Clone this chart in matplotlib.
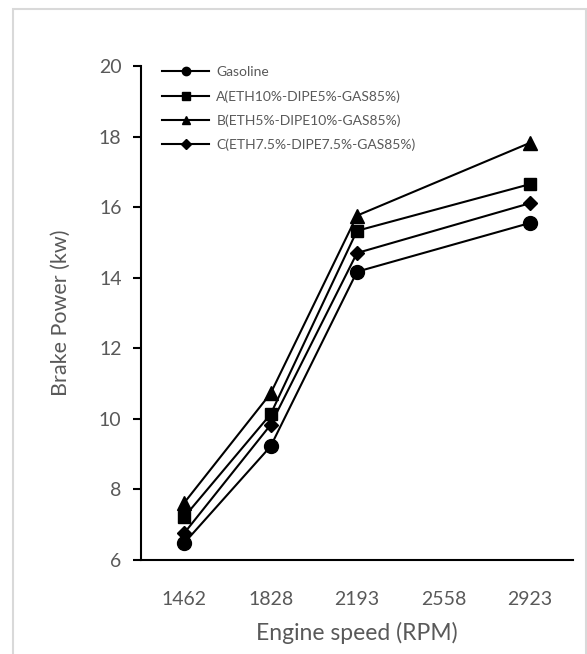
import matplotlib
matplotlib.use("Agg")
import matplotlib.pyplot as plt
from matplotlib.patches import Rectangle

rpm_ticks = [1462, 1828, 2193, 2558, 2923]
measured_rpm = [1462, 1828, 2193, 2923]
gasoline = [6.48, 9.22, 14.17, 15.55]
blend_a = [7.22, 10.13, 15.33, 16.65]
blend_b = [7.62, 10.72, 15.76, 17.82]
blend_c = [6.76, 9.83, 14.70, 16.11]
labels = ["Gasoline", "A(ETH10%-DIPE5%-GAS85%)", "B(ETH5%-DIPE10%-GAS85%)",
          "C(ETH7.5%-DIPE7.5%-GAS85%)"]

plt.rcParams['font.family'] = ['Lato', 'DejaVu Sans']
gray = '#595959'

fig = plt.figure(figsize=(5.87, 6.54), dpi=100)
fig.patches.append(Rectangle((13/587, -0.1), (586-13)/587, 1 - 9/654 + 0.1,
                             transform=fig.transFigure, fill=False,
                             edgecolor='#d9d9d9', linewidth=1.5))
ax = fig.add_axes([141/587, 1 - 560/654, (573-141)/587, (560-66)/654])

xpos = [rpm_ticks.index(r) for r in measured_rpm]
series = [gasoline, blend_a, blend_b, blend_c]
markers = ['o', 's', '^', 'D']
msizes = [10, 9, 10, 7]
handles = []
for vals, m, ms, lab in zip(series, markers, msizes, labels):
    ax.plot(xpos, vals, color='black', lw=1.5, marker=m, markersize=ms,
            markeredgecolor='black', markerfacecolor='black', clip_on=False)
    h, = ax.plot([], [], color='black', lw=1.5, marker=m,
                 markersize=6 if m != 'D' else 5, label=lab)
    handles.append(h)

ax.set_xlim(-0.5, 4.5)
ax.set_ylim(6, 20)
ax.set_yticks(range(6, 21, 2))
ax.set_xticks(range(len(rpm_ticks)))
ax.set_xticklabels([str(r) for r in rpm_ticks])
for s in ['top', 'right']:
    ax.spines[s].set_visible(False)
for s in ['left', 'bottom']:
    ax.spines[s].set_linewidth(1.5)
ax.tick_params(axis='y', direction='out', length=6, width=1.5, colors='black',
               labelcolor=gray, labelsize=14, pad=8)
ax.tick_params(axis='x', length=0, labelcolor=gray, labelsize=14, pad=22)
ax.set_xlabel("Engine speed (RPM)", color=gray, fontsize=16.5, labelpad=10)
ax.set_ylabel("Brake Power (kw)", color=gray, fontsize=15.5, labelpad=20)

leg = ax.legend(handles=handles, loc='upper left', bbox_to_anchor=(0.02, 1.025),
                frameon=False, fontsize=10, handlelength=3.4, labelspacing=0.85,
                handletextpad=0.5)
for t in leg.get_texts():
    t.set_color(gray)

fig.savefig("out.png", dpi=100)
